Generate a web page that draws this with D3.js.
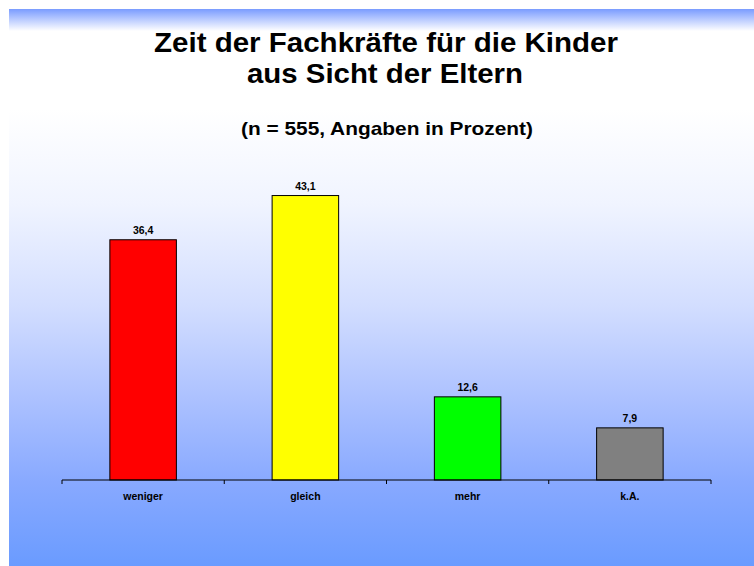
<!DOCTYPE html>
<html>
<head>
<meta charset="utf-8">
<script src="https://cdn.jsdelivr.net/npm/d3@7"></script>
<style>
  body { margin: 0; background: #fff; }
  text { font-family: Arial, 'Liberation Sans', sans-serif; font-weight: bold; fill: #000; }
</style>
</head>
<body>
<svg id="chart"></svg>
<script>
const W = 754
const H = 566
const margins = { top: 150, bottom: 86, left: 62, right: 43 }
const w = W - margins.left - margins.right
const h = H - margins.top - margins.bottom

const categories = ['weniger', 'gleich', 'mehr', 'k.A.']
const values = [36.4, 43.1, 12.6, 7.9]
const valueLabels = ['36,4', '43,1', '12,6', '7,9']
const colors = ['#ff0000', '#ffff00', '#00ff00', '#808080']

const svg = d3.select('svg#chart').attr('width', W).attr('height', H)

const defs = svg.append('defs')
const bg = defs.append('linearGradient').attr('id', 'bg')
  .attr('x1', 0).attr('y1', 0).attr('x2', 0).attr('y2', 1)
bg.append('stop').attr('offset', '0').attr('stop-color', '#ffffff')
bg.append('stop').attr('offset', '0.18').attr('stop-color', '#ffffff')
bg.append('stop').attr('offset', '0.35').attr('stop-color', '#f0f4ff')
bg.append('stop').attr('offset', '0.53').attr('stop-color', '#d3deff')
bg.append('stop').attr('offset', '0.70').attr('stop-color', '#acc1ff')
bg.append('stop').attr('offset', '0.85').attr('stop-color', '#88a9ff')
bg.append('stop').attr('offset', '1').attr('stop-color', '#6a9bff')

const topBar = defs.append('linearGradient').attr('id', 'topbar')
  .attr('x1', 0).attr('y1', 0).attr('x2', 0).attr('y2', 1)
topBar.append('stop').attr('offset', '0').attr('stop-color', '#7a9cff')
topBar.append('stop').attr('offset', '1').attr('stop-color', '#7a9cff').attr('stop-opacity', 0)

svg.append('rect').attr('x', 9).attr('y', 9).attr('width', W - 9).attr('height', H - 9)
  .attr('fill', 'url(#bg)')
svg.append('rect').attr('x', 9).attr('y', 9).attr('width', W - 9).attr('height', 22)
  .attr('fill', 'url(#topbar)')

// titles
svg.append('text').attr('x', 386).attr('y', 52).attr('text-anchor', 'middle')
  .style('font-size', '28px').attr('textLength', 464).attr('lengthAdjust', 'spacingAndGlyphs')
  .text('Zeit der Fachkräfte für die Kinder')
svg.append('text').attr('x', 385).attr('y', 83).attr('text-anchor', 'middle')
  .style('font-size', '28px').attr('textLength', 276).attr('lengthAdjust', 'spacingAndGlyphs')
  .text('aus Sicht der Eltern')
svg.append('text').attr('x', 387).attr('y', 135).attr('text-anchor', 'middle')
  .style('font-size', '19px').attr('textLength', 292).attr('lengthAdjust', 'spacingAndGlyphs')
  .text('(n = 555, Angaben in Prozent)')

const inner = svg.append('g')
  .attr('transform', 'translate(' + margins.left + ',' + margins.top + ')')

const xScale = d3.scaleBand().domain(categories).range([0, w]).paddingInner(0.59).paddingOuter(0.295)
const yScale = d3.scaleLinear().domain([0, 50]).range([h, 0])

inner.selectAll('rect.bar').data(categories)
  .join('rect')
  .attr('class', 'bar')
  .attr('x', d => xScale(d))
  .attr('y', (d, i) => yScale(values[i]))
  .attr('width', xScale.bandwidth())
  .attr('height', (d, i) => h - yScale(values[i]))
  .attr('fill', (d, i) => colors[i])
  .attr('stroke', '#000')
  .attr('stroke-width', 1)

inner.selectAll('text.val').data(categories)
  .join('text')
  .attr('class', 'val')
  .attr('x', d => xScale(d) + xScale.bandwidth() / 2)
  .attr('y', (d, i) => yScale(values[i]) - 6)
  .attr('text-anchor', 'middle')
  .style('font-size', '10.5px')
  .text((d, i) => valueLabels[i])

// axis line with ticks at the band boundaries
const step = w / categories.length
const tickPos = d3.range(categories.length + 1).map(i => i * step)
inner.append('line').attr('x1', 0).attr('x2', w).attr('y1', h).attr('y2', h)
  .attr('stroke', '#000').attr('stroke-width', 1)
inner.selectAll('line.tick').data(tickPos)
  .join('line').attr('class', 'tick')
  .attr('x1', d => d).attr('x2', d => d)
  .attr('y1', h).attr('y2', h + 4)
  .attr('stroke', '#000')

inner.selectAll('text.cat').data(categories)
  .join('text')
  .attr('class', 'cat')
  .attr('x', d => xScale(d) + xScale.bandwidth() / 2)
  .attr('y', h + 20)
  .attr('text-anchor', 'middle')
  .style('font-size', '10.5px')
  .text(d => d)
</script>
</body>
</html>
